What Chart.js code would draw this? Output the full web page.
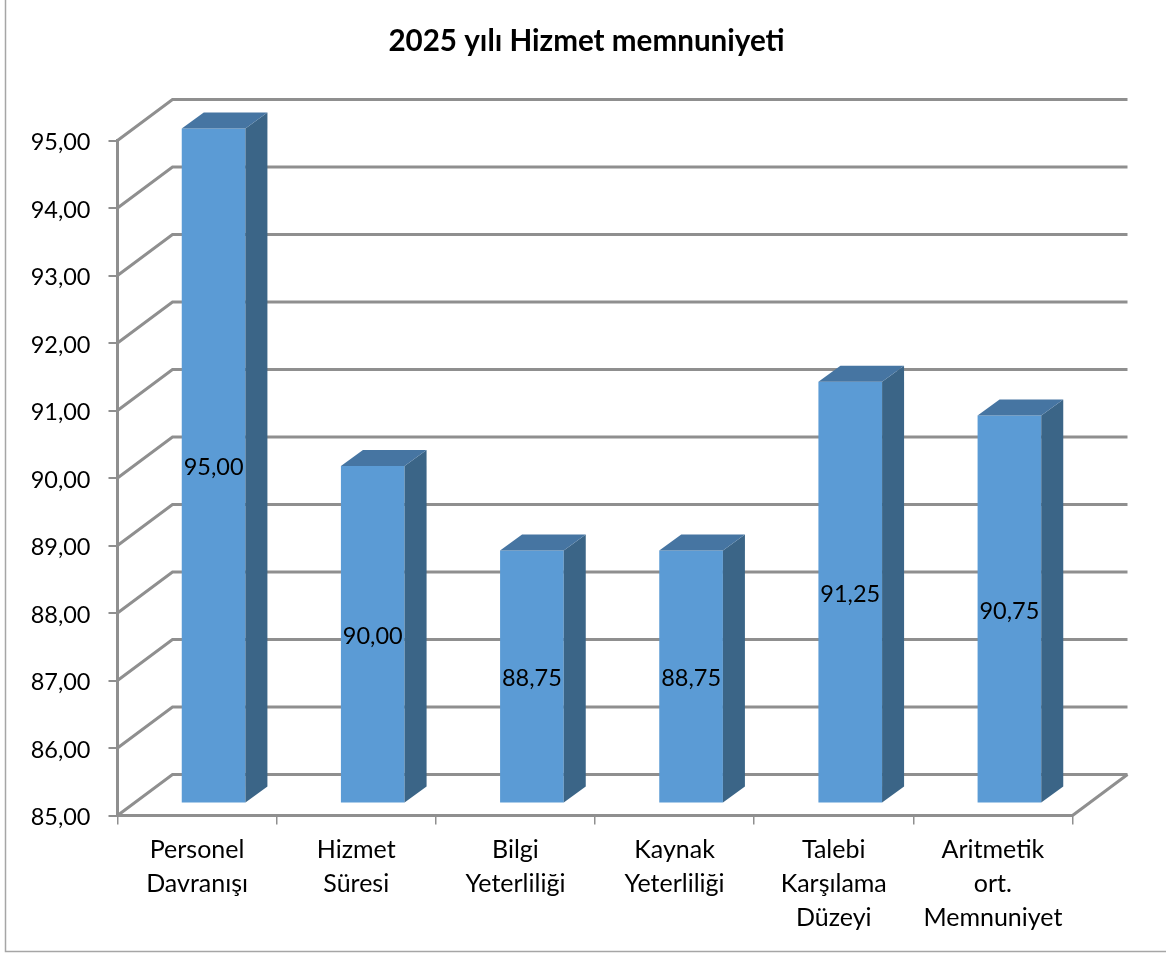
<!DOCTYPE html>
<html lang="tr">
<head>
<meta charset="utf-8">
<title>2025 yılı Hizmet memnuniyeti</title>
<script src="https://cdn.jsdelivr.net/npm/chart.js@4"></script>
<style>
  html, body { margin: 0; background: #fff; }
  canvas { display: block; }
</style>
</head>
<body>
<canvas id="myChart" width="1166" height="953"></canvas>
<script>
'use strict';

// data
let categories = [
  ['Personel', 'Davranışı'],
  ['Hizmet', 'Süresi'],
  ['Bilgi', 'Yeterliliği'],
  ['Kaynak', 'Yeterliliği'],
  ['Talebi', 'Karşılama', 'Düzeyi'],
  ['Aritmetik', 'ort.', 'Memnuniyet']
];
let satisfaction = [95.00, 90.00, 88.75, 88.75, 91.25, 90.75];
let titleText = '2025 yılı Hizmet memnuniyeti';

// looks
let gridColor = '#8f8f8f';
let frontColor = '#5b9bd5';
let sideColor = '#3b6587';
let topColor = '#4675a2';
let fontName = 'Lato, Carlito, sans-serif';

// the 3d depth of the walls and of the bars
let wallDepth = { x: 55, y: 41 };
let barShift = { x: 16.5, y: 12 };
let barDepth = { x: 22, y: 16 };

function fmt(v) {
  return v.toFixed(2).replace('.', ',');
}

function line(ctx, pts) {
  ctx.beginPath();
  ctx.moveTo(pts[0][0], pts[0][1]);
  for (let i = 1; i < pts.length; i++) ctx.lineTo(pts[i][0], pts[i][1]);
  ctx.stroke();
}

function poly(ctx, pts, color) {
  ctx.fillStyle = color;
  ctx.beginPath();
  ctx.moveTo(pts[0][0], pts[0][1]);
  for (let i = 1; i < pts.length; i++) ctx.lineTo(pts[i][0], pts[i][1]);
  ctx.closePath();
  ctx.fill();
}

let fake3d = {
  id: 'fake3d',
  afterUpdate(chart) {
    // value labels sit a little under their tick in the original
    chart.scales.y.getLabelItems().forEach(function (item) {
      item.options.translation[1] += 2;
    });
  },
  beforeDraw(chart) {
    // outer frame, only left and bottom are inside the picture
    let ctx = chart.ctx;
    ctx.save();
    ctx.strokeStyle = '#a6a6a6';
    ctx.lineWidth = 1.5;
    line(ctx, [[5.5, 0], [5.5, 951.5], [1166, 951.5]]);
    ctx.restore();
  },
  beforeDatasetsDraw(chart) {
    let ctx = chart.ctx;
    let area = chart.chartArea;
    let yScale = chart.scales.y;

    // back wall grid lines, one for each tick
    ctx.save();
    ctx.strokeStyle = gridColor;
    ctx.lineWidth = 3;
    yScale.ticks.forEach(function (t) {
      let y = yScale.getPixelForValue(t.value);
      line(ctx, [
        [area.left, y],
        [area.left + wallDepth.x, y - wallDepth.y],
        [area.right + wallDepth.x, y - wallDepth.y]
      ]);
    });
    // right edge of the floor
    line(ctx, [
      [area.right, area.bottom],
      [area.right + wallDepth.x, area.bottom - wallDepth.y]
    ]);
    ctx.restore();

    // bars stand in the middle of the floor
    ctx.save();
    ctx.translate(barShift.x, -barShift.y);
  },
  afterDatasetsDraw(chart) {
    let ctx = chart.ctx;
    let meta = chart.getDatasetMeta(0);
    meta.data.forEach(function (bar, i) {
      let left = bar.x - bar.width / 2;
      let right = bar.x + bar.width / 2;
      let dx = barDepth.x;
      let dy = barDepth.y;
      poly(ctx, [[right, bar.y], [right + dx, bar.y - dy], [right + dx, bar.base - dy], [right, bar.base]], sideColor);
      poly(ctx, [[left, bar.y], [left + dx, bar.y - dy], [right + dx, bar.y - dy], [right, bar.y]], topColor);

      ctx.fillStyle = '#000';
      ctx.font = '23.5px ' + fontName;
      ctx.textAlign = 'center';
      ctx.textBaseline = 'middle';
      ctx.fillText(fmt(satisfaction[i]), bar.x, (bar.y + bar.base) / 2 + 2);
    });
    ctx.restore();
  }
};

let ctx = document.getElementById('myChart').getContext('2d');
let myChart = new Chart(ctx, { //eslint-disable-line
  type: 'bar',
  data: {
    labels: categories,
    datasets: [{
      data: satisfaction,
      base: 85,
      backgroundColor: frontColor,
      categoryPercentage: 1,
      barPercentage: 0.4,
      clip: false
    }]
  },
  plugins: [fake3d],
  options: {
    responsive: false,
    animation: false,
    layout: { padding: { left: 7, right: 0, top: 0, bottom: 0 } },
    plugins: {
      legend: { display: false },
      tooltip: { enabled: false },
      title: {
        display: true,
        text: titleText,
        color: '#000',
        font: { family: fontName, size: 29.6, weight: 'bold', lineHeight: 1.2 },
        padding: { top: 24, bottom: 81 }
      }
    },
    scales: {
      y: {
        min: 85,
        max: 95,
        afterFit(scale) { scale.width = 110.5; },
        ticks: {
          stepSize: 1,
          color: '#000',
          padding: 18,
          font: { family: fontName, size: 23.5 },
          callback: function (v) { return fmt(v); }
        },
        grid: { drawOnChartArea: false, color: gridColor, tickLength: 9, lineWidth: 2 },
        border: { color: gridColor, width: 3 }
      },
      // empty axis, it only keeps the room right of the floor so the title stays centred on the page
      yRoom: {
        type: 'linear',
        position: 'right',
        afterFit(scale) { scale.width = 93.5; },
        ticks: { display: false },
        grid: { display: false },
        border: { display: false }
      },
      x: {
        afterFit(scale) { scale.height = 137.5; },
        ticks: {
          color: '#000',
          maxRotation: 0,
          autoSkip: false,
          padding: 9,
          font: { family: fontName, size: 25, lineHeight: 1.344 }
        },
        grid: { drawOnChartArea: false, color: gridColor, tickLength: 9, lineWidth: 1.5, offset: true },
        border: { color: gridColor, width: 3 }
      }
    }
  }
});
</script>
</body>
</html>
